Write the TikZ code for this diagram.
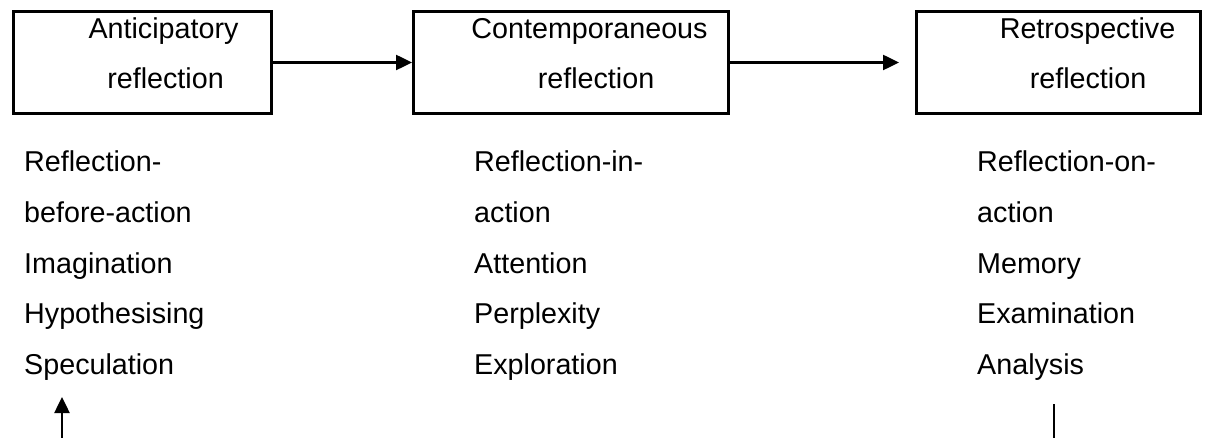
\documentclass[tikz,border=0pt]{standalone}
\usepackage{fontspec}
\setmainfont{Liberation Sans}
\usetikzlibrary{arrows.meta}

\tikzset{
  stagebox/.style={draw, line width=3pt, inner sep=0pt},
  boxtext/.style={anchor=base, inner sep=0pt, font=\fontsize{28.7}{34}\selectfont},
  itemtext/.style={anchor=base west, inner sep=0pt, font=\fontsize{28.7}{34}\selectfont},
  flow/.style={line width=2.5pt, -{Triangle[length=16pt, width=15pt]}},
  plain/.style={line width=2.2pt}
}

\begin{document}
\begin{tikzpicture}[x=1pt, y=-1pt]
  \useasboundingbox (0,0) rectangle (1212,438);

  % the three stage boxes
  \node[stagebox, minimum width=258pt, minimum height=102pt] (ant) at (142.5,62.5) {};
  \node[stagebox, minimum width=315pt, minimum height=102pt] (con) at (571,62.5) {};
  \node[stagebox, minimum width=284pt, minimum height=102pt] (ret) at (1058.5,62.5) {};

  % box titles
  \node[boxtext] (antA) at (163.5,39) {Anticipatory};
  \node[boxtext] (antB) at (165.5,89) {reflection};
  \node[boxtext] (conA) at (589.5,39) {Contemporaneous};
  \node[boxtext] (conB) at (596,89) {reflection};
  \node[boxtext] (retA) at (1087.5,39) {Retrospective};
  \node[boxtext] (retB) at (1088,89) {reflection};

  % arrows between stages
  \draw[flow] (ant.east) -- (con.west);
  \coordinate (retin) at ([xshift=-16pt]ret.west);
  \draw[flow] (con.east) -- (retin);

  % lists under each stage
  \node[itemtext] (a1) at (24,172) {Reflection-};
  \node[itemtext] (a2) at (24,222.5) {before-action};
  \node[itemtext] (a3) at (24,273) {Imagination};
  \node[itemtext] (a4) at (24,323.5) {Hypothesising};
  \node[itemtext] (a5) at (24,374) {Speculation};

  \node[itemtext] (c1) at (474,172) {Reflection-in-};
  \node[itemtext] (c2) at (474,222.5) {action};
  \node[itemtext] (c3) at (474,273) {Attention};
  \node[itemtext] (c4) at (474,323.5) {Perplexity};
  \node[itemtext] (c5) at (474,374) {Exploration};

  \node[itemtext] (r1) at (977,172) {Reflection-on-};
  \node[itemtext] (r2) at (977,222.5) {action};
  \node[itemtext] (r3) at (977,273) {Memory};
  \node[itemtext] (r4) at (977,323.5) {Examination};
  \node[itemtext] (r5) at (977,374) {Analysis};

  % return loop stubs at the bottom
  \coordinate (loopfoot) at (62,440);
  \coordinate (looptip) at (62,397);
  \draw[flow] (loopfoot) -- (looptip);
  \coordinate (loopstart) at (1054,404);
  \coordinate (loopdown) at (1054,440);
  \draw[plain] (loopstart) -- (loopdown);
\end{tikzpicture}
\end{document}
